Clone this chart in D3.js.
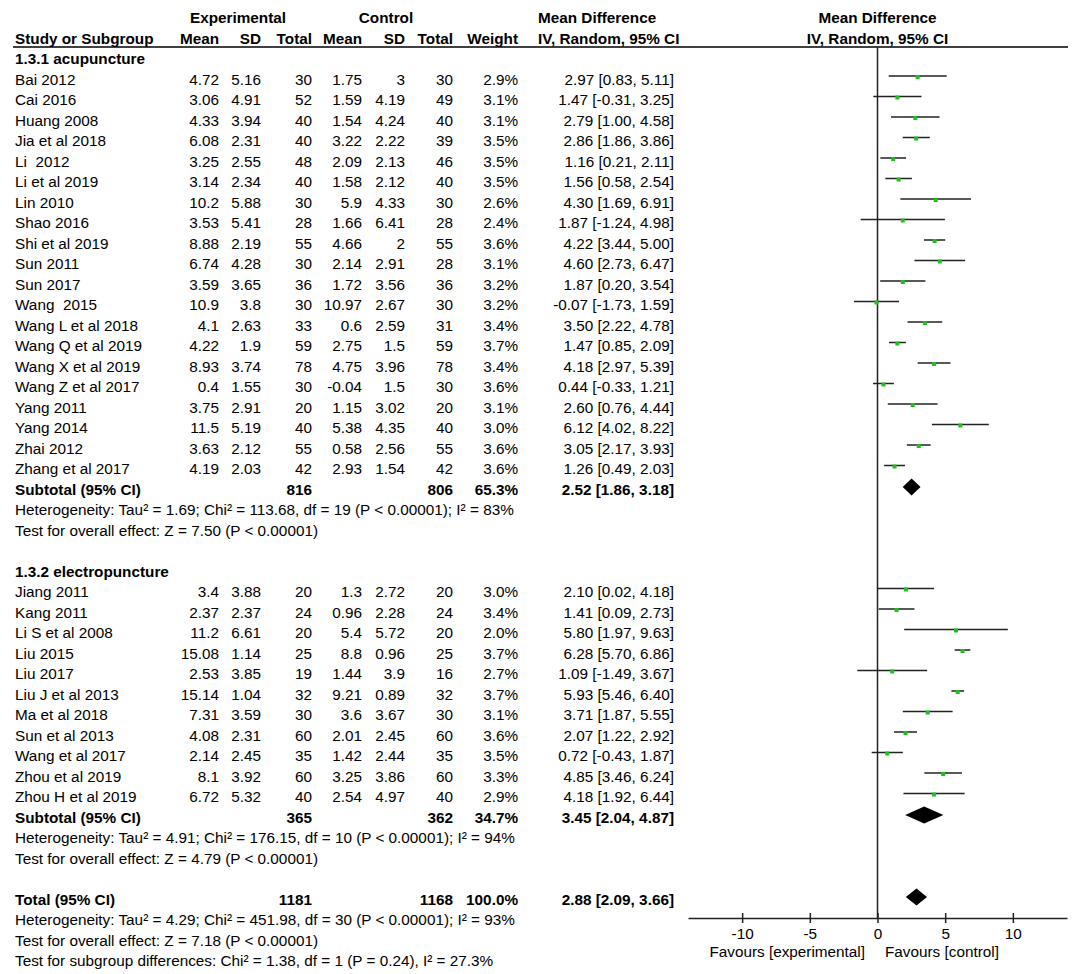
<!DOCTYPE html>
<html>
<head>
<meta charset="utf-8">
<script src="https://cdn.jsdelivr.net/npm/d3@7"></script>
<style>
  body { margin: 0; background: #fff; }
  svg text { font-family: "Liberation Sans", Arial, sans-serif; font-size: 15.3px; fill: #000; white-space: pre; }
</style>
</head>
<body>
<div id="forest"></div>
<script>
// 1.3.1 acupuncture
const acuStudy = ["Bai 2012", "Cai 2016", "Huang 2008", "Jia et al 2018", "Li  2012", "Li et al 2019", "Lin 2010",
  "Shao 2016", "Shi et al 2019", "Sun 2011", "Sun 2017", "Wang  2015", "Wang L et al 2018", "Wang Q et al 2019",
  "Wang X et al 2019", "Wang Z et al 2017", "Yang 2011", "Yang 2014", "Zhai 2012", "Zhang et al 2017"];
const acuExpMean = [4.72, 3.06, 4.33, 6.08, 3.25, 3.14, 10.2, 3.53, 8.88, 6.74, 3.59, 10.9, 4.1, 4.22, 8.93, 0.4, 3.75, 11.5, 3.63, 4.19];
const acuExpSD = [5.16, 4.91, 3.94, 2.31, 2.55, 2.34, 5.88, 5.41, 2.19, 4.28, 3.65, 3.8, 2.63, 1.9, 3.74, 1.55, 2.91, 5.19, 2.12, 2.03];
const acuExpN = [30, 52, 40, 40, 48, 40, 30, 28, 55, 30, 36, 30, 33, 59, 78, 30, 20, 40, 55, 42];
const acuCtlMean = [1.75, 1.59, 1.54, 3.22, 2.09, 1.58, 5.9, 1.66, 4.66, 2.14, 1.72, 10.97, 0.6, 2.75, 4.75, -0.04, 1.15, 5.38, 0.58, 2.93];
const acuCtlSD = [3, 4.19, 4.24, 2.22, 2.13, 2.12, 4.33, 6.41, 2, 2.91, 3.56, 2.67, 2.59, 1.5, 3.96, 1.5, 3.02, 4.35, 2.56, 1.54];
const acuCtlN = [30, 49, 40, 39, 46, 40, 30, 28, 55, 28, 36, 30, 31, 59, 78, 30, 20, 40, 55, 42];
const acuWeight = [2.9, 3.1, 3.1, 3.5, 3.5, 3.5, 2.6, 2.4, 3.6, 3.1, 3.2, 3.2, 3.4, 3.7, 3.4, 3.6, 3.1, 3.0, 3.6, 3.6];
const acuMD = [2.97, 1.47, 2.79, 2.86, 1.16, 1.56, 4.30, 1.87, 4.22, 4.60, 1.87, -0.07, 3.50, 1.47, 4.18, 0.44, 2.60, 6.12, 3.05, 1.26];
const acuLow = [0.83, -0.31, 1.00, 1.86, 0.21, 0.58, 1.69, -1.24, 3.44, 2.73, 0.20, -1.73, 2.22, 0.85, 2.97, -0.33, 0.76, 4.02, 2.17, 0.49];
const acuHigh = [5.11, 3.25, 4.58, 3.86, 2.11, 2.54, 6.91, 4.98, 5.00, 6.47, 3.54, 1.59, 4.78, 2.09, 5.39, 1.21, 4.44, 8.22, 3.93, 2.03];

// 1.3.2 electropuncture
const eleStudy = ["Jiang 2011", "Kang 2011", "Li S et al 2008", "Liu 2015", "Liu 2017", "Liu J et al 2013",
  "Ma et al 2018", "Sun et al 2013", "Wang et al 2017", "Zhou et al 2019", "Zhou H et al 2019"];
const eleExpMean = [3.4, 2.37, 11.2, 15.08, 2.53, 15.14, 7.31, 4.08, 2.14, 8.1, 6.72];
const eleExpSD = [3.88, 2.37, 6.61, 1.14, 3.85, 1.04, 3.59, 2.31, 2.45, 3.92, 5.32];
const eleExpN = [20, 24, 20, 25, 19, 32, 30, 60, 35, 60, 40];
const eleCtlMean = [1.3, 0.96, 5.4, 8.8, 1.44, 9.21, 3.6, 2.01, 1.42, 3.25, 2.54];
const eleCtlSD = [2.72, 2.28, 5.72, 0.96, 3.9, 0.89, 3.67, 2.45, 2.44, 3.86, 4.97];
const eleCtlN = [20, 24, 20, 25, 16, 32, 30, 60, 35, 60, 40];
const eleWeight = [3.0, 3.4, 2.0, 3.7, 2.7, 3.7, 3.1, 3.6, 3.5, 3.3, 2.9];
const eleMD = [2.10, 1.41, 5.80, 6.28, 1.09, 5.93, 3.71, 2.07, 0.72, 4.85, 4.18];
const eleLow = [0.02, 0.09, 1.97, 5.70, -1.49, 5.46, 1.87, 1.22, -0.43, 3.46, 1.92];
const eleHigh = [4.18, 2.73, 9.63, 6.86, 3.67, 6.40, 5.55, 2.92, 1.87, 6.24, 6.44];

// pooled results: [acupuncture, electropuncture, total]
const poolLabel = ["Subtotal (95% CI)", "Subtotal (95% CI)", "Total (95% CI)"];
const poolExpN = [816, 365, 1181];
const poolCtlN = [806, 362, 1168];
const poolWeight = [65.3, 34.7, 100.0];
const poolMD = [2.52, 3.45, 2.88];
const poolLow = [1.86, 2.04, 2.09];
const poolHigh = [3.18, 4.87, 3.66];
const poolNotes = [
  ["Heterogeneity: Tau\u00b2 = 1.69; Chi\u00b2 = 113.68, df = 19 (P < 0.00001); I\u00b2 = 83%",
   "Test for overall effect: Z = 7.50 (P < 0.00001)"],
  ["Heterogeneity: Tau\u00b2 = 4.91; Chi\u00b2 = 176.15, df = 10 (P < 0.00001); I\u00b2 = 94%",
   "Test for overall effect: Z = 4.79 (P < 0.00001)"],
  ["Heterogeneity: Tau\u00b2 = 4.29; Chi\u00b2 = 451.98, df = 30 (P < 0.00001); I\u00b2 = 93%",
   "Test for overall effect: Z = 7.18 (P < 0.00001)",
   "Test for subgroup differences: Chi\u00b2 = 1.38, df = 1 (P = 0.24), I\u00b2 = 27.3%"]
];
const groupTitle = ["1.3.1 acupuncture", "1.3.2 electropuncture"];
const axisTicks = [-10, -5, 0, 5, 10];

const width = 1084, height = 974;
const rowY = i => 59 + 20.5 * i;

// column right edges
const cols = { expMean: 219, expSD: 261, expN: 312, ctlMean: 362, ctlSD: 405, ctlN: 453, weight: 518, ci: 674 };

const x = d3.scaleLinear().domain([-14, 14]).range([688, 1067]);

const svg = d3.select("#forest").append("svg")
  .attr("width", width).attr("height", height);

// build the row list
const rows = [];
const groups = [
  [acuStudy, acuExpMean, acuExpSD, acuExpN, acuCtlMean, acuCtlSD, acuCtlN, acuWeight, acuMD, acuLow, acuHigh],
  [eleStudy, eleExpMean, eleExpSD, eleExpN, eleCtlMean, eleCtlSD, eleCtlN, eleWeight, eleMD, eleLow, eleHigh]
];
groups.forEach((g, gi) => {
  rows.push({ type: "title", label: groupTitle[gi] });
  g[0].forEach((name, i) => rows.push({
    type: "study", label: name, expMean: g[1][i], expSD: g[2][i], expN: g[3][i],
    ctlMean: g[4][i], ctlSD: g[5][i], ctlN: g[6][i], weight: g[7][i], md: g[8][i], lo: g[9][i], hi: g[10][i]
  }));
  rows.push({ type: "pool", k: gi });
  poolNotes[gi].forEach(t => rows.push({ type: "note", label: t }));
  rows.push({ type: "blank" });
});
rows.push({ type: "pool", k: 2 });
poolNotes[2].forEach(t => rows.push({ type: "note", label: t }));

// plain hyphen minus like the original
const fmt2 = v => v.toFixed(2);
const ciText = (m, l, h) => `${fmt2(m)} [${fmt2(l)}, ${fmt2(h)}]`;

// header
const head = svg.append("g").style("font-weight", "bold");
head.append("text").attr("x", 238).attr("y", 18).attr("dy", "0.35em").attr("text-anchor", "middle").text("Experimental");
head.append("text").attr("x", 386).attr("y", 18).attr("dy", "0.35em").attr("text-anchor", "middle").text("Control");
head.append("text").attr("x", 538).attr("y", 18).attr("dy", "0.35em").text("Mean Difference");
head.append("text").attr("x", x(0)).attr("y", 18).attr("dy", "0.35em").attr("text-anchor", "middle").text("Mean Difference");
head.append("text").attr("x", 15).attr("y", 39).attr("dy", "0.35em").text("Study or Subgroup");
[["expMean", "Mean"], ["expSD", "SD"], ["expN", "Total"], ["ctlMean", "Mean"], ["ctlSD", "SD"], ["ctlN", "Total"], ["weight", "Weight"]]
  .forEach(([k, t]) => head.append("text").attr("x", cols[k]).attr("y", 39).attr("dy", "0.35em")
    .attr("text-anchor", "end").text(t));
head.append("text").attr("x", 538).attr("y", 39).attr("dy", "0.35em").text("IV, Random, 95% CI");
head.append("text").attr("x", x(0)).attr("y", 39).attr("dy", "0.35em").attr("text-anchor", "middle").text("IV, Random, 95% CI");

svg.append("line").attr("x1", 13).attr("x2", 1068).attr("y1", 47).attr("y2", 47)
  .attr("stroke", "#000").attr("stroke-width", 1.5);

// zero line
svg.append("line").attr("x1", x(0)).attr("x2", x(0)).attr("y1", 47).attr("y2", 918)
  .attr("stroke", "#222").attr("stroke-width", 1.5);

// table rows
const body = svg.append("g");
rows.forEach((r, i) => {
  const y = rowY(i);
  if (r.type === "title") {
    body.append("text").attr("x", 15).attr("y", y).attr("dy", "0.35em").style("font-weight", "bold").text(r.label);
  } else if (r.type === "note") {
    body.append("text").attr("x", 15).attr("y", y).attr("dy", "0.35em").text(r.label);
  } else if (r.type === "study") {
    body.append("text").attr("x", 15).attr("y", y).attr("dy", "0.35em").text(r.label);
    const vals = { expMean: r.expMean, expSD: r.expSD, expN: r.expN, ctlMean: r.ctlMean, ctlSD: r.ctlSD,
      ctlN: r.ctlN, weight: r.weight.toFixed(1) + "%", ci: ciText(r.md, r.lo, r.hi) };
    Object.keys(vals).forEach(k => body.append("text").attr("x", cols[k]).attr("y", y).attr("dy", "0.35em")
      .attr("text-anchor", "end").text(vals[k]));
    // CI line and point
    const ly = y - 3.5;
    svg.append("line").attr("x1", x(r.lo)).attr("x2", x(r.hi)).attr("y1", ly).attr("y2", ly)
      .attr("stroke", "#222").attr("stroke-width", 1.5);
    svg.append("rect").attr("x", x(r.md) - 2).attr("y", ly - 1).attr("width", 4).attr("height", 4)
      .attr("fill", "#1ec01e");
  } else if (r.type === "pool") {
    const k = r.k;
    const g = body.append("g").style("font-weight", "bold");
    g.append("text").attr("x", 15).attr("y", y).attr("dy", "0.35em").text(poolLabel[k]);
    const vals = { expN: poolExpN[k], ctlN: poolCtlN[k], weight: poolWeight[k].toFixed(1) + "%",
      ci: ciText(poolMD[k], poolLow[k], poolHigh[k]) };
    Object.keys(vals).forEach(c => g.append("text").attr("x", cols[c]).attr("y", y).attr("dy", "0.35em")
      .attr("text-anchor", "end").text(vals[c]));
    const dy = y - 2.5, hh = 8.5;
    svg.append("path")
      .attr("d", `M${x(poolLow[k])},${dy} L${x(poolMD[k])},${dy - hh} L${x(poolHigh[k])},${dy} L${x(poolMD[k])},${dy + hh} Z`)
      .attr("fill", "#000");
  }
});

// axis
const axisG = svg.append("g").attr("transform", "translate(0,918)")
  .call(d3.axisBottom(x).tickValues(axisTicks).tickFormat(d => String(d))
    .tickSize(5).tickPadding(5).tickSizeOuter(0));
axisG.select(".domain").attr("stroke", "#222").attr("stroke-width", 1.5);
axisG.selectAll(".tick line").attr("y1", -5).attr("y2", 5).attr("stroke", "#222").attr("stroke-width", 1.5);
axisG.selectAll(".tick text").style("font-size", "15.3px").attr("fill", "#000")
  .style("font-family", "'Liberation Sans', Arial, sans-serif");

svg.append("text").attr("x", 865).attr("y", 952).attr("dy", "0.35em").attr("text-anchor", "end").text("Favours [experimental]");
svg.append("text").attr("x", 885).attr("y", 952).attr("dy", "0.35em").text("Favours [control]");
</script>
</body>
</html>
